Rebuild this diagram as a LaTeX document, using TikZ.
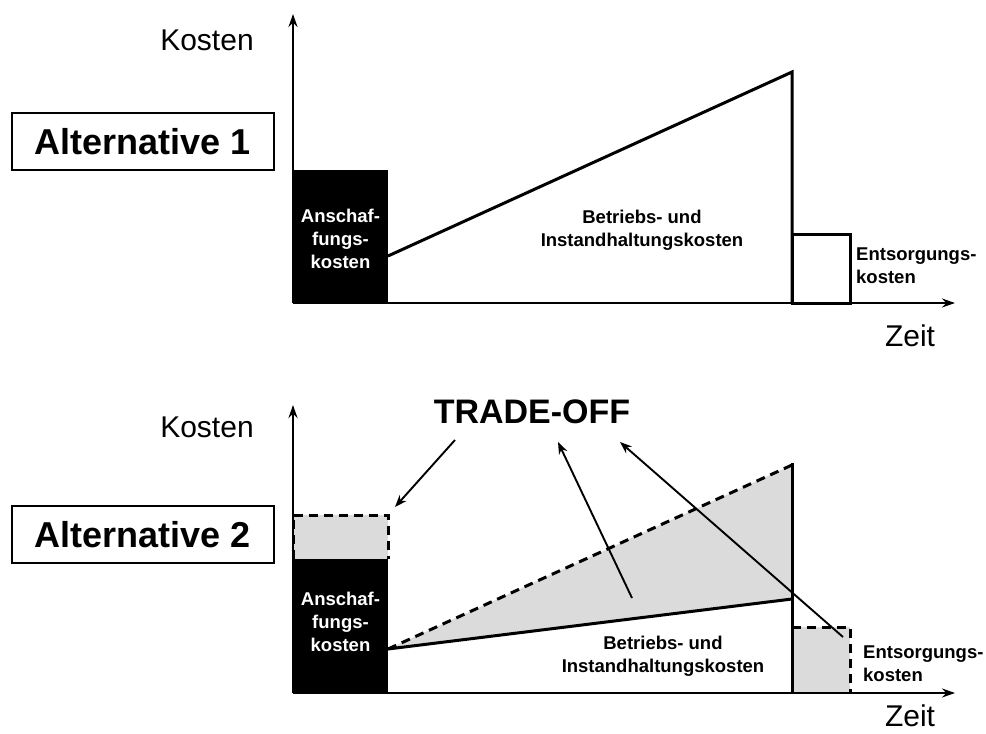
\documentclass[tikz,border=0pt]{standalone}
\usepackage{fontspec}
\setmainfont{Liberation Sans}
\usetikzlibrary{arrows.meta}
\begin{document}
\begin{tikzpicture}[x=1pt,y=-1pt,
  axis/.style={line width=2.6pt,-{Stealth[length=13pt,width=9pt]}},
  curve/.style={line width=3pt},
  dashline/.style={line width=3pt,dash pattern=on 9pt off 6pt},
  hint/.style={line width=1.9pt,-{Stealth[length=12pt,width=9pt]}},
  altbox/.style={draw,line width=1.8pt,minimum width=262pt,minimum height=57pt,inner sep=0pt,font=\fontsize{36}{40}\selectfont\bfseries},
  axlabel/.style={font=\fontsize{30}{34}\selectfont,inner sep=1pt},
  small/.style={font=\fontsize{18.5}{23}\selectfont\bfseries,align=center,inner sep=0pt},
  lightgray/.style={fill=black!14}
]
\useasboundingbox (0,0) rectangle (986,734);

% ---------------- Alternative 1 ----------------
\node[altbox] (alt1) at (143,141.5) {Alternative 1};
\node[axlabel] (k1) at (207,40) {Kosten};
\node[axlabel] (z1) at (910,336) {Zeit};

\fill (293,170) rectangle (388,303);
\draw[curve] (388,256) -- (792,72) -- (792,303);
\draw[curve] (792,234) rectangle (850,303);
\draw[axis] (293,303) -- (293,14);
\draw[axis] (293,303) -- (955,303);

\node[small,text=white] (a1) at (340.5,238.5) {Anschaf-\\fungs-\\kosten};
\node[small] (b1) at (642,230) {Betriebs- und\\Instandhaltungskosten};
\node[small,align=left,anchor=west] (e1) at (856,265.5) {Entsorgungs-\\kosten};

% ---------------- Alternative 2 ----------------
\node[altbox] (alt2) at (143,534.5) {Alternative 2};
\node[axlabel] (k2) at (207,427) {Kosten};
\node[axlabel] (z2) at (910,716) {Zeit};

% shaded extra cost areas
\fill[lightgray] (293,515) rectangle (388,559);
\fill[lightgray] (388,649) -- (792,465) -- (792,599) -- cycle;
\fill[lightgray] (792,627) rectangle (850,693);
\fill (293,559) rectangle (388,693);

\draw[dashline] (293,559) -- (293,515) -- (388,515) -- (388,559);
\draw[dashline] (388,649) -- (792,465);
\draw[curve] (388,649) -- (792,599);
\draw[curve] (792,463) -- (792,693);
\draw[dashline] (792,627) -- (850,627) -- (850,693);
\draw[axis] (293,693) -- (293,405);
\draw[axis] (293,693) -- (955,693);

\node[small,text=white] (a2) at (340.5,622) {Anschaf-\\fungs-\\kosten};
\node[small] (b2) at (663,656.5) {Betriebs- und\\Instandhaltungskosten};
\node[small,align=left,anchor=west] (e2) at (863,664) {Entsorgungs-\\kosten};

% trade-off annotation
\node[font=\fontsize{34}{38}\selectfont\bfseries] (to) at (532,412) {TRADE-OFF};
\coordinate (s1) at (455,440);
\coordinate (t1) at (395,507);
\coordinate (s2) at (632,598);
\coordinate (t2) at (558,442);
\coordinate (s3) at (843,637);
\coordinate (t3) at (620,442);
\draw[hint] (s1) -- (t1);
\draw[hint] (s2) -- (t2);
\draw[hint] (s3) -- (t3);
\end{tikzpicture}
\end{document}
